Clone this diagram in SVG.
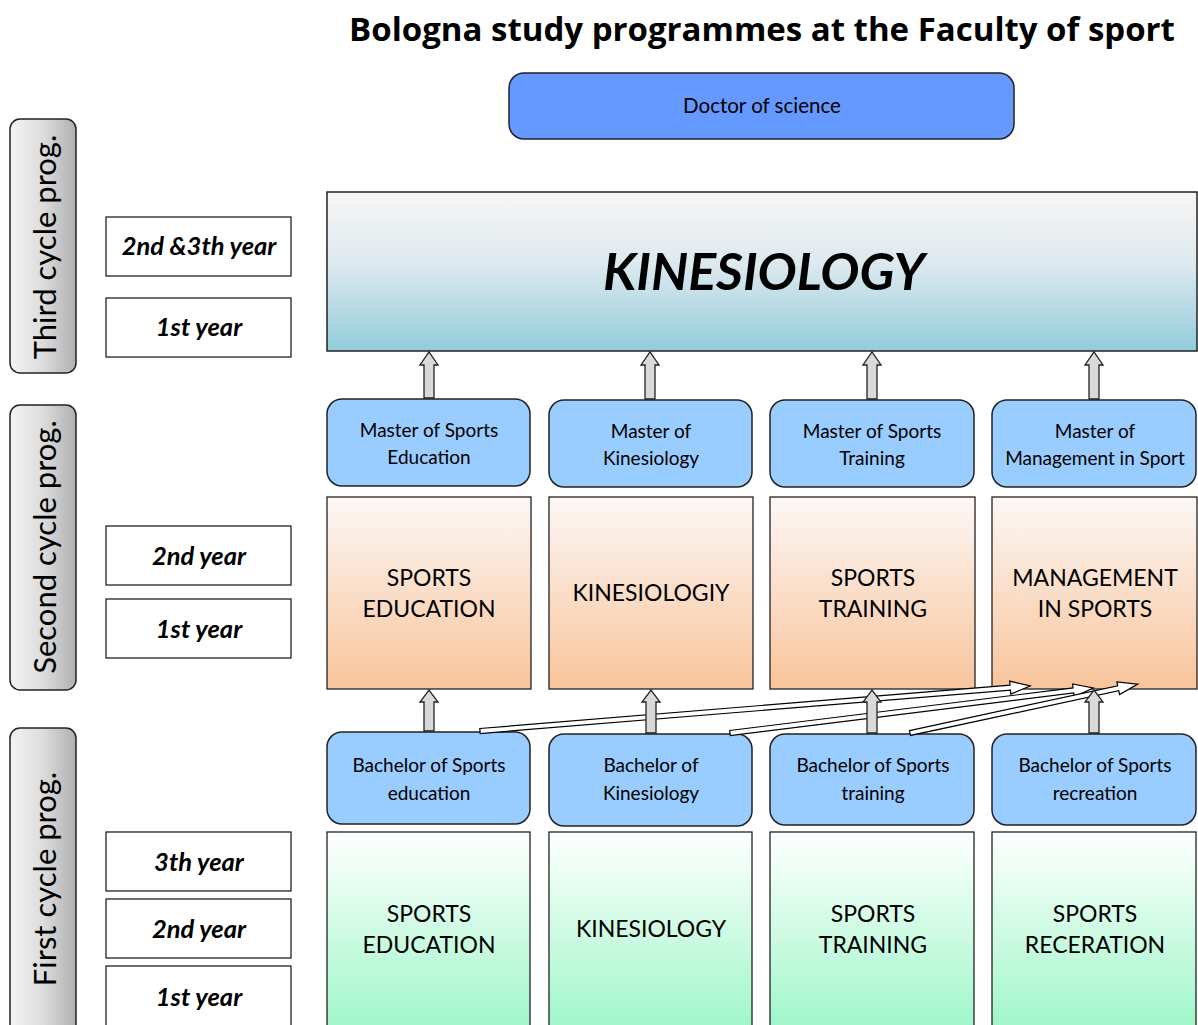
<svg xmlns="http://www.w3.org/2000/svg" width="1198" height="1025" viewBox="0 0 1198 1025">
<defs>
<linearGradient id="gSide" x1="0" y1="0" x2="1" y2="0"><stop offset="0" stop-color="#f4f4f4"/><stop offset="0.5" stop-color="#dcdcdc"/><stop offset="1" stop-color="#b0b0b0"/></linearGradient>
<linearGradient id="gKin" x1="0" y1="0" x2="0" y2="1"><stop offset="0" stop-color="#f9f5f5"/><stop offset="0.45" stop-color="#dde9ee"/><stop offset="1" stop-color="#92ccdb"/></linearGradient>
<linearGradient id="gOr" x1="0" y1="0" x2="0" y2="1"><stop offset="0" stop-color="#fcf7f6"/><stop offset="1" stop-color="#f8c49a"/></linearGradient>
<linearGradient id="gGr" x1="0" y1="0" x2="0" y2="1"><stop offset="0" stop-color="#ffffff"/><stop offset="1" stop-color="#9ef6c9"/></linearGradient>
</defs>
<style>
text{font-family:Lato,"Open Sans","Liberation Sans",sans-serif;fill:#000;text-anchor:middle}
.title{font-family:"Open Sans","Liberation Sans",sans-serif;font-weight:bold;font-size:33px}
.side{fill:url(#gSide);stroke:#222;stroke-width:1.5}
.sidet{font-size:31px}
.year{fill:#fff;stroke:#222;stroke-width:1.3}
.yeart{font-size:25.5px;font-weight:bold;font-style:italic}
.blue{fill:#99ccff;stroke:#222;stroke-width:1.5}
.doc{fill:#6699ff;stroke:#222;stroke-width:1.5}
.bt{font-size:19px}
.or{fill:url(#gOr);stroke:#222;stroke-width:1.3}
.gr{fill:url(#gGr);stroke:#222;stroke-width:1.3}
.kin{fill:url(#gKin);stroke:#222;stroke-width:1.5}
.big{font-size:23px}
.gray{fill:#d9d9d9;stroke:#222;stroke-width:1.3}
.thin{fill:#fff;stroke:#000;stroke-width:1.2}
</style>
<text class="title" x="762" y="41">Bologna study programmes at the Faculty of sport</text>

<g id="side-third"><rect class="side" x="10" y="119" width="66" height="254" rx="10"/><text class="sidet" transform="translate(56,247) rotate(-90)">Third cycle prog.</text></g>
<g id="side-second"><rect class="side" x="10" y="405" width="66" height="285" rx="10"/><text class="sidet" transform="translate(56,547) rotate(-90)">Second cycle prog.</text></g>
<g id="side-first"><rect class="side" x="10" y="728" width="66" height="310" rx="10"/><text class="sidet" transform="translate(56,879) rotate(-90)">First cycle prog.</text></g>

<g id="y3-2"><rect class="year" x="106" y="217" width="185" height="59"/><text class="yeart" x="199" y="255">2nd &amp;3th year</text></g>
<g id="y3-1"><rect class="year" x="106" y="298" width="185" height="59"/><text class="yeart" x="199" y="336">1st year</text></g>
<g id="y2-2"><rect class="year" x="106" y="526" width="185" height="59"/><text class="yeart" x="199" y="565">2nd year</text></g>
<g id="y2-1"><rect class="year" x="106" y="599" width="185" height="59"/><text class="yeart" x="199" y="638">1st year</text></g>
<g id="y1-3"><rect class="year" x="106" y="832" width="185" height="59"/><text class="yeart" x="199" y="871">3th year</text></g>
<g id="y1-2"><rect class="year" x="106" y="899" width="185" height="59"/><text class="yeart" x="199" y="938">2nd year</text></g>
<g id="y1-1"><rect class="year" x="106" y="966" width="185" height="65"/><text class="yeart" x="199" y="1006">1st year</text></g>

<g id="doctor"><rect class="doc" x="509" y="73" width="505" height="66" rx="15"/><text x="762" y="113" style="font-size:20.5px">Doctor of science</text></g>
<g id="kinesiology-top"><rect class="kin" x="327" y="192" width="870" height="159"/><text x="764" y="290" style="font-size:52px;font-weight:bold;font-style:italic">KINESIOLOGY</text></g>

<g id="m1"><rect class="blue" x="327" y="399" width="203" height="87" rx="15"/><text class="bt" x="429" y="437">Master of Sports</text><text class="bt" x="429" y="464">Education</text></g>
<g id="m2"><rect class="blue" x="549" y="400" width="203" height="87" rx="15"/><text class="bt" x="651" y="438">Master of</text><text class="bt" x="651" y="465">Kinesiology</text></g>
<g id="m3"><rect class="blue" x="770" y="400" width="204" height="87" rx="15"/><text class="bt" x="872" y="438">Master of Sports</text><text class="bt" x="872" y="465">Training</text></g>
<g id="m4"><rect class="blue" x="992" y="400" width="204" height="87" rx="15"/><text class="bt" x="1095" y="438">Master of</text><text class="bt" x="1095" y="465">Management in Sport</text></g>

<g id="s1"><rect class="or" x="327" y="497" width="204" height="192"/><text class="big" x="429" y="586">SPORTS</text><text class="big" x="429" y="617">EDUCATION</text></g>
<g id="s2"><rect class="or" x="549" y="497" width="204" height="192"/><text class="big" x="651" y="601">KINESIOLOGIY</text></g>
<g id="s3"><rect class="or" x="770" y="497" width="205" height="192"/><text class="big" x="873" y="586">SPORTS</text><text class="big" x="873" y="617">TRAINING</text></g>
<g id="s4"><rect class="or" x="992" y="497" width="205" height="192"/><text class="big" x="1095" y="586">MANAGEMENT</text><text class="big" x="1095" y="617">IN SPORTS</text></g>

<g id="b1"><rect class="blue" x="327" y="732" width="203" height="92" rx="15"/><text class="bt" x="429" y="772">Bachelor of Sports</text><text class="bt" x="429" y="800">education</text></g>
<g id="b2"><rect class="blue" x="549" y="734" width="203" height="92" rx="15"/><text class="bt" x="651" y="772">Bachelor of</text><text class="bt" x="651" y="800">Kinesiology</text></g>
<g id="b3"><rect class="blue" x="770" y="734" width="204" height="91" rx="15"/><text class="bt" x="873" y="772">Bachelor of Sports</text><text class="bt" x="873" y="800">training</text></g>
<g id="b4"><rect class="blue" x="992" y="734" width="204" height="91" rx="15"/><text class="bt" x="1095" y="772">Bachelor of Sports</text><text class="bt" x="1095" y="800">recreation</text></g>

<g id="f1"><rect class="gr" x="327" y="832" width="203" height="200"/><text class="big" x="429" y="922">SPORTS</text><text class="big" x="429" y="953">EDUCATION</text></g>
<g id="f2"><rect class="gr" x="549" y="832" width="203" height="200"/><text class="big" x="651" y="937">KINESIOLOGY</text></g>
<g id="f3"><rect class="gr" x="770" y="832" width="204" height="200"/><text class="big" x="873" y="922">SPORTS</text><text class="big" x="873" y="953">TRAINING</text></g>
<g id="f4"><rect class="gr" x="992" y="832" width="204" height="200"/><text class="big" x="1095" y="922">SPORTS</text><text class="big" x="1095" y="953">RECERATION</text></g>

<g id="connectors">
<polygon class="thin" transform="translate(480,731) rotate(-4.68)" points="0,-2.5 532,-2.5 532,-6.5 552,0 532,6.5 532,2.5 0,2.5"/>
<polygon class="thin" transform="translate(730,733) rotate(-7.07)" points="0,-2.5 346,-2.5 346,-6.5 366,0 346,6.5 346,2.5 0,2.5"/>
<polygon class="thin" transform="translate(910,733) rotate(-12.13)" points="0,-2.5 213,-2.5 213,-6.5 233,0 213,6.5 213,2.5 0,2.5"/>
<polygon class="gray" points="424,398 424,365 420,365 429,352 438,365 434,365 434,398"/>
<polygon class="gray" points="645,399 645,365 641,365 650,352 659,365 655,365 655,399"/>
<polygon class="gray" points="867,399 867,365 863,365 872,352 881,365 877,365 877,399"/>
<polygon class="gray" points="1089,399 1089,365 1085,365 1094,352 1103,365 1099,365 1099,399"/>
<polygon class="gray" points="424,731 424,702 420,702 429,690 438,702 434,702 434,731"/>
<polygon class="gray" points="646,733 646,702 642,702 651,690 660,702 656,702 656,733"/>
<polygon class="gray" points="867,733 867,702 863,702 872,690 881,702 877,702 877,733"/>
<polygon class="gray" points="1089,733 1089,702 1085,702 1094,690 1103,702 1099,702 1099,733"/>
</g>
</svg>
